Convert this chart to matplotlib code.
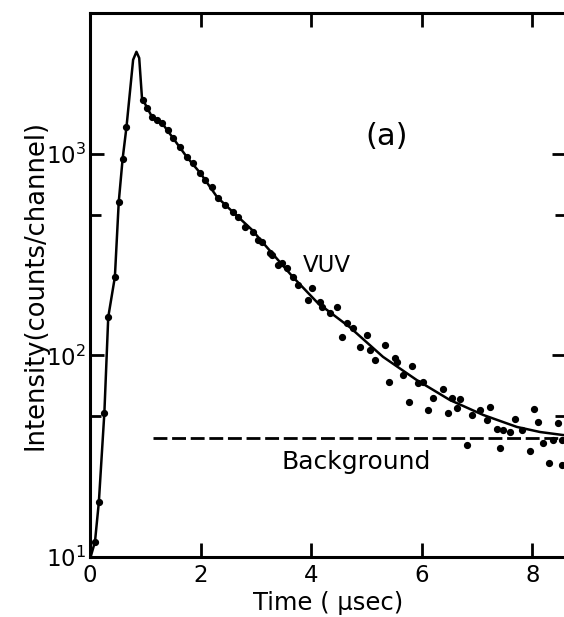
import matplotlib
matplotlib.use("Agg")
import matplotlib.pyplot as plt
from matplotlib.ticker import FixedLocator, FixedFormatter, NullFormatter

# ---- data ----
rise_t = [0.09, 0.16, 0.26, 0.33, 0.45, 0.52, 0.59, 0.66]
rise_y = [11.9, 18.7, 52, 155, 245, 578, 944, 1360]

decay_t = [0.95, 1.03, 1.12, 1.21, 1.30, 1.41, 1.50, 1.63, 1.75, 1.86, 1.99, 2.08,
           2.21, 2.31, 2.44, 2.59, 2.68, 2.80, 2.95, 3.04, 3.11, 3.25, 3.29, 3.40,
           3.47, 3.56, 3.67, 3.76, 3.94, 4.01, 4.16, 4.20, 4.34, 4.47, 4.56, 4.65,
           4.76, 4.88, 5.01, 5.06, 5.15, 5.33, 5.41, 5.52, 5.55, 5.66, 5.77, 5.82,
           5.93, 6.02, 6.11, 6.20, 6.38, 6.47, 6.55, 6.64, 6.69, 6.82, 6.91, 7.05,
           7.18, 7.23, 7.36, 7.41, 7.47, 7.59, 7.69, 7.81, 7.96, 8.03, 8.10, 8.19,
           8.30, 8.37, 8.46, 8.54, 8.54]
decay_y = [1854, 1691, 1531, 1475, 1425, 1316, 1200, 1083, 966, 902, 805, 743,
           686, 605, 558, 515, 486, 434, 410, 374, 366, 323, 315, 281,
           288, 272, 245, 224, 188, 216, 184, 174, 163, 174, 124, 145,
           137, 110, 126, 106, 95, 113, 74, 97, 93, 80, 58.8, 89,
           73, 74, 53.7, 61.5, 68, 51.8, 61.5, 54.8, 60.8, 36.0, 50.7, 53.7,
           47.9, 55.5, 43.2, 34.7, 42.7, 41.7, 48.4, 42.7, 33.6, 54.2, 46.8, 36.8,
           29.3, 38.1, 46.2, 28.6, 38.1]

fit_t = [0.02, 0.09, 0.16, 0.26, 0.33, 0.45, 0.52, 0.59, 0.66, 0.78, 0.84, 0.89,
         0.94, 1.03, 1.12, 1.30, 1.50, 1.75, 2.00, 2.30, 2.60, 2.93, 3.13, 3.67,
         4.12, 4.70, 5.30, 5.91, 6.51, 7.11, 7.72, 8.14, 8.55, 8.70]
fit_y = [10.2, 11.9, 18.7, 52, 155, 245, 578, 944, 1360, 2930, 3210, 2990,
         1897, 1700, 1530, 1425, 1200, 966, 800, 610, 510, 420, 362, 245,
         182, 138, 98.4, 75.5, 60.1, 50.7, 44.2, 41.7, 40.3, 40.0]

background_level = 39.0
background_t = [1.14, 8.70]

ytick_vals = [10, 100, 1000]
ytick_labels = [r'$\mathregular{10^{1}}$', r'$\mathregular{10^{2}}$', r'$\mathregular{10^{3}}$']
yminor_vals = [50, 500]
xtick_vals = [0, 2, 4, 6, 8]

plt.rcParams['font.family'] = ['DejaVu Sans']

fig = plt.figure(figsize=(5.64, 6.17), dpi=100)
ax = fig.add_axes([90/564, 60/617, 476/564, 544/617])

ax.plot(fit_t, fit_y, color='black', lw=1.8, zorder=3)
ax.plot(rise_t, rise_y, 'o', color='black', ms=4.2, zorder=4)
ax.plot(decay_t, decay_y, 'o', color='black', ms=4.2, zorder=4)
ax.plot(background_t, [background_level]*2, color='black', lw=2.0,
        linestyle=(0, (5, 1.7)), zorder=2)

ax.set_yscale('log')
ax.set_xlim(0, 8.61)
ax.set_ylim(10, 5000)

ax.yaxis.set_major_locator(FixedLocator(ytick_vals))
ax.yaxis.set_major_formatter(FixedFormatter(ytick_labels))
ax.yaxis.set_minor_locator(FixedLocator(yminor_vals))
ax.yaxis.set_minor_formatter(NullFormatter())
ax.xaxis.set_major_locator(FixedLocator(xtick_vals))
ax.xaxis.set_minor_locator(FixedLocator([]))

for s in ['left', 'bottom', 'top', 'right']:
    ax.spines[s].set_linewidth(2.2)

ax.tick_params(which='major', direction='in', length=10, width=2.0,
               top=True, right=True, labelsize=16.5)
ax.tick_params(which='minor', direction='in', length=8, width=2.0,
               top=False, right=True)
ax.tick_params(axis='y', which='major', pad=3)
ax.tick_params(axis='x', which='major', pad=5)

ax.set_xlabel('Time ( μsec)', fontsize=17.5, labelpad=3)
ax.set_ylabel('Intensity(counts/channel)', fontsize=18.5, labelpad=-2)

ax.text(4.29, 281, 'VUV', fontsize=16.5, ha='center', va='center')
ax.text(4.81, 29.6, 'Background', fontsize=18, ha='center', va='center')
ax.text(5.37, 1214, '(a)', fontsize=22, ha='center', va='center')

fig.savefig('out.png', dpi=100)
